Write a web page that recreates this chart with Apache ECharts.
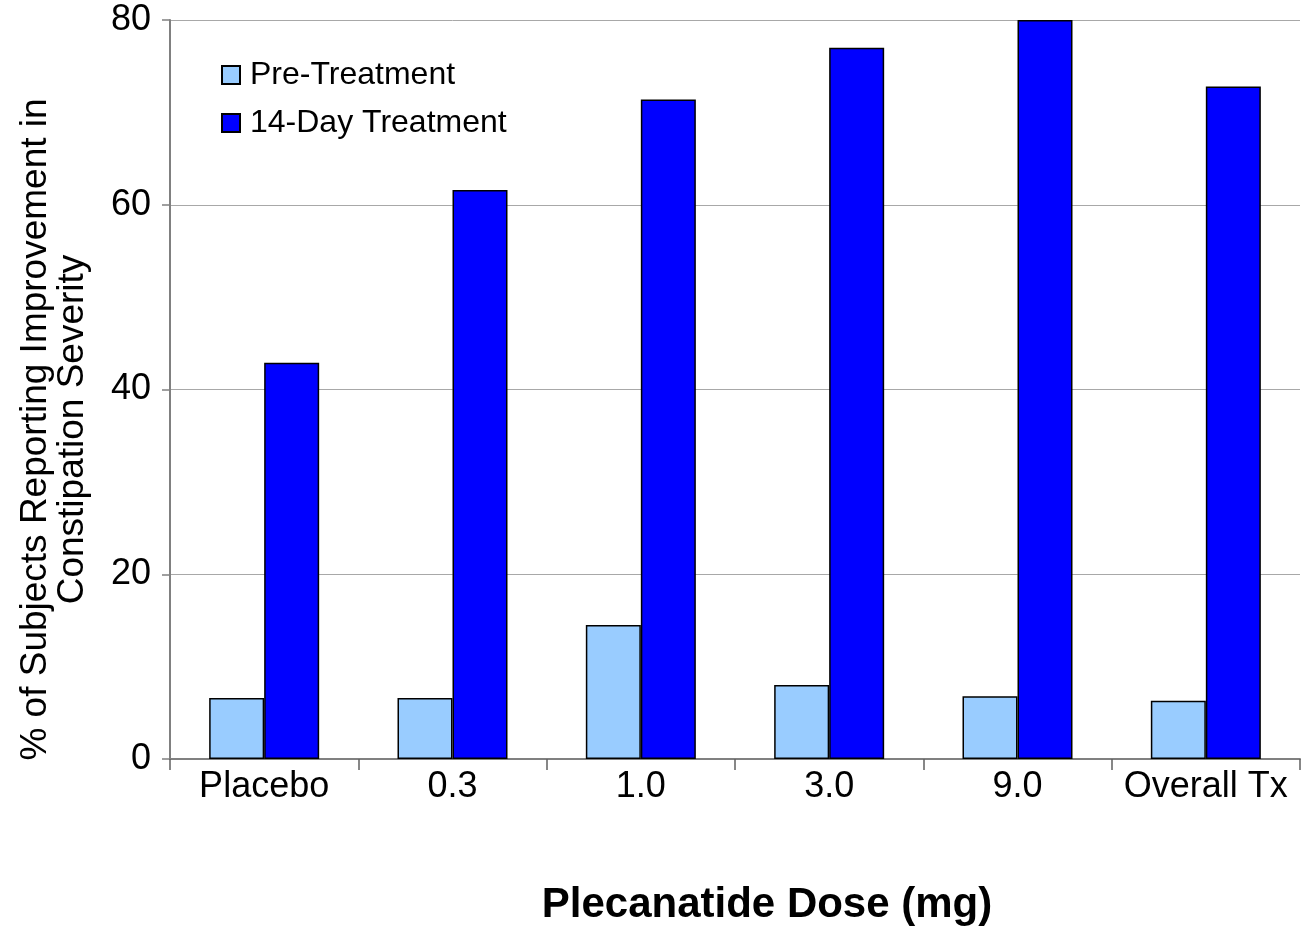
<!DOCTYPE html>
<html><head><meta charset="utf-8">
<script src="https://cdn.jsdelivr.net/npm/echarts@6/dist/echarts.min.js"></script>
<style>html,body{margin:0;padding:0;background:#fff}#c{width:1305px;height:927px}</style>
</head><body><div id="c"></div>
<script>
const categories = ['Placebo', '0.3', '1.0', '3.0', '9.0', 'Overall Tx'];
const preTreatment = [6.6, 6.6, 14.5, 8.0, 6.8, 6.3];
const treatment14Day = [42.9, 61.6, 71.4, 77.0, 80.0, 72.8];
const yTicks = [0, 20, 40, 60, 80];

const chart = echarts.init(document.getElementById('c'), null, {renderer: 'canvas'});
const font = 'Arial, "Liberation Sans", sans-serif';
chart.setOption({
  animation: false,
  backgroundColor: '#fff',
  grid: {left: 170, right: 5, top: 20, bottom: 168, containLabel: false, outerBoundsMode: 'none'},
  legend: {
    orient: 'vertical', left: 216, top: 54, itemGap: 16,
    itemWidth: 18, itemHeight: 18, icon: 'rect',
    textStyle: {fontFamily: font, fontSize: 32, color: '#000', padding: [0,0,0,5]},
    data: ['Pre-Treatment', '14-Day Treatment']
  },
  xAxis: {
    type: 'category', data: categories,
    name: 'Plecanatide Dose (mg)', nameLocation: 'middle', nameGap: 125,
    nameTextStyle: {fontFamily: font, fontSize: 42, fontWeight: 'bold', color: '#000', padding: [0,0,0,64]},
    axisLine: {lineStyle: {color: '#808080', width: 2}},
    axisTick: {show: true, length: 11, lineStyle: {color: '#606060', width: 1.5}},
    axisLabel: {fontFamily: font, fontSize: 36, color: '#000', margin: 10, interval: 0}
  },
  yAxis: {
    type: 'value', min: 0, max: 80, interval: 20,
    name: '% of Subjects Reporting Improvement in\nConstipation Severity',
    nameLocation: 'middle', nameGap: 79,
    nameTextStyle: {fontFamily: font, fontSize: 37, color: '#000', lineHeight: 37, padding: [0,0,0,-80]},
    axisLine: {show: true, lineStyle: {color: '#808080', width: 2}},
    axisTick: {show: true, length: 8, lineStyle: {color: '#808080', width: 1.5}},
    axisLabel: {fontFamily: font, fontSize: 36, color: '#000', margin: 19,
      formatter: v => yTicks.includes(v) ? String(v) : ''},
    splitLine: {lineStyle: {color: '#a8a8a8', width: 1}}
  },
  series: [
    {name: 'Pre-Treatment', type: 'bar', data: preTreatment, barWidth: 55, barGap: '0%',
     itemStyle: {color: '#99ccff', borderColor: '#000', borderWidth: 1.5}},
    {name: '14-Day Treatment', type: 'bar', data: treatment14Day, barWidth: 55,
     itemStyle: {color: '#0000ff', borderColor: '#000', borderWidth: 1.5}}
  ]
});
</script></body></html>
